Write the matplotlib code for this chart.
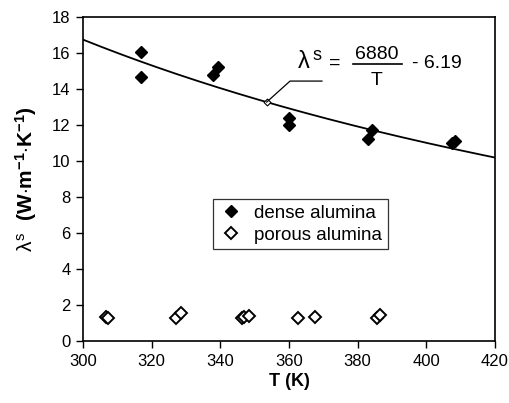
import matplotlib
matplotlib.use("Agg")
import matplotlib.pyplot as plt
import numpy as np

plt.rcParams['font.family'] = ['Liberation Sans', 'DejaVu Sans']
plt.rcParams['mathtext.fontset'] = 'custom'
plt.rcParams['mathtext.rm'] = 'Liberation Sans'
plt.rcParams['mathtext.it'] = 'Liberation Sans'
plt.rcParams['mathtext.bf'] = 'Liberation Sans:bold'

# data
dense_T = [316.9, 316.9, 338.0, 339.2, 360.0, 360.0, 382.9, 384.1, 407.6, 408.3]
dense_k = [16.05, 14.65, 14.78, 15.22, 12.0, 12.38, 11.25, 11.75, 11.0, 11.12]
porous_T = [306.8, 307.3, 327.2, 328.4, 346.2, 347.0, 348.4, 362.7, 367.6, 385.7, 386.6]
porous_k = [1.35, 1.3, 1.3, 1.55, 1.3, 1.32, 1.38, 1.3, 1.32, 1.28, 1.42]
fit_a = 6880.0
fit_b = 6.19
xticks = [300, 320, 340, 360, 380, 400, 420]
yticks = [0, 2, 4, 6, 8, 10, 12, 14, 16, 18]

fig = plt.figure(figsize=(5.10, 4.03), dpi=100)
ax = fig.add_axes([83/510, 62/403, 412/510, 324/403])

Tf = np.linspace(300, 420, 200)
ax.plot(Tf, fit_a / Tf - fit_b, color='black', lw=1.3, zorder=2)

ax.plot(dense_T, dense_k, linestyle='none', marker='D', ms=6.5, color='black',
        label='dense alumina', zorder=3)
ax.plot(porous_T, porous_k, linestyle='none', marker='D', ms=5.8, mfc='white',
        mec='black', mew=1.4, label='porous alumina', zorder=3)

ax.set_xlim(300, 420)
ax.set_ylim(0, 18)
ax.set_xticks(xticks)
ax.set_yticks(yticks)
ax.tick_params(direction='out', length=5, width=1, labelsize=12, colors='black', pad=4)
for s in ax.spines.values():
    s.set_linewidth(1.2)

ax.set_xlabel('T (K)', fontsize=13, fontweight='bold', labelpad=3)
ax.set_ylabel(r'$\lambda^{s}$  $\mathbf{(W{\cdot}m^{-1}{\cdot}K^{-1})}$', fontsize=15, labelpad=9)

# annotation leader
pT = 353.5
pk = fit_a / pT - fit_b
ax.plot([pT], [pk], marker='D', ms=3.5, mfc='white', mec='black', mew=0.8, zorder=4)
ax.plot([pT, 360.3, 369.6], [pk, 14.44, 14.44], color='black', lw=0.9, zorder=4)

# equation
ax.text(364.2, 15.5, r'$\lambda$', fontsize=17, ha='center', va='center')
ax.text(368.3, 15.86, 's', fontsize=13, ha='center', va='center')
ax.text(373.4, 15.45, '=', fontsize=14, ha='center', va='center')
ax.text(385.6, 15.94, '6880', fontsize=14, ha='center', va='center')
ax.plot([378.6, 393.0], [15.37, 15.37], color='black', lw=1.2)
ax.text(385.6, 14.47, 'T', fontsize=14, ha='center', va='center')
ax.text(395.7, 15.43, '- 6.19', fontsize=14, ha='left', va='center')

leg = ax.legend(loc='upper left', bbox_to_anchor=((212.7-83)/412, (341-199.3)/324),
                fontsize=13.5, frameon=True, fancybox=False, edgecolor='black',
                handletextpad=0.6, borderpad=0.3, labelspacing=0.25, handlelength=1.3,
                borderaxespad=0)
leg.get_frame().set_linewidth(0.9)

fig.savefig('out.png', dpi=100)
